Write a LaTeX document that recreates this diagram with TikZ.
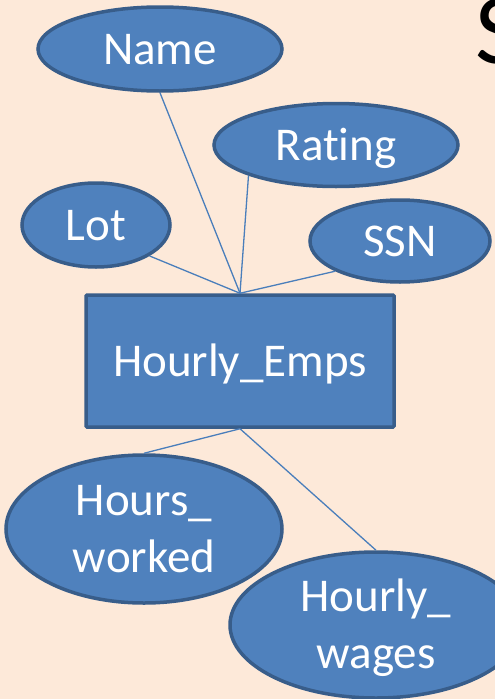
\documentclass[tikz,border=0pt]{standalone}
\usepackage{fontspec}
\setmainfont{Carlito}[Ligatures=NoCommon]
\usetikzlibrary{shapes.geometric}
\definecolor{bgpeach}{HTML}{FDE9D9}
\definecolor{shapefill}{HTML}{4F81BD}
\definecolor{shapeline}{HTML}{385D8A}
\definecolor{linkblue}{HTML}{4A7EBB}
\newcommand{\labelfont}{\fontsize{47}{57}\selectfont}
\tikzset{
  attr/.style={ellipse, draw=shapeline, fill=shapefill, line width=3.5pt,
    inner sep=0pt, text=white, font=\labelfont},
  entity/.style={rectangle, draw=shapeline, fill=shapefill, line width=3.5pt,
    inner sep=0pt, text=white, font=\labelfont, rounded corners=1pt},
  oneline/.style={text height=30pt, text depth=0pt},
  twoline/.style={align=center, text height=87pt, text depth=0pt},
  link/.style={draw=linkblue, line width=1.3pt},
}
\begin{document}
\begin{tikzpicture}[x=1pt, y=-1pt]
  % canvas
  \useasboundingbox (0,0) rectangle (495,699);
  \fill[bgpeach] (0,0) rectangle (495,699);
  \clip (0,0) rectangle (495,699);

  % title letter at the top right
  \node[anchor=base west, inner sep=0pt, font=\fontsize{100}{120}\selectfont, text=black]
    (title) at (475,63) {S};

  % entity
  \node[entity, oneline, minimum width=308pt, minimum height=132pt]
    (emps) at (240,361) {Hourly\_Emps};

  % attributes
  \node[attr, oneline, minimum width=244pt, minimum height=84pt] (name) at (160,49) {Name};
  \node[attr, oneline, minimum width=244pt, minimum height=83pt] (rating) at (336,145) {Rating};
  \node[attr, oneline, minimum width=148pt, minimum height=84pt] (lot) at (96,225) {Lot};
  \node[attr, oneline, minimum width=180pt, minimum height=82pt] (ssn) at (400,241) {SSN};
  \node[attr, twoline, minimum width=276pt, minimum height=148pt] (hw) at (144,529) {Hours\_\\worked};
  \node[attr, twoline, minimum width=292pt, minimum height=146pt] (hwg) at (376,625) {Hourly\_\\wages};

  % links between attributes and the entity
  \draw[link] (name.south) -- (emps.north);
  \draw[link] (rating.south west) -- (emps.north);
  \draw[link] (lot.south east) -- (emps.north);
  \draw[link] (ssn.south west) -- (emps.north);
  \draw[link] (emps.south) -- (hw.north);
  \draw[link] (emps.south) -- (hwg.north);
\end{tikzpicture}
\end{document}
